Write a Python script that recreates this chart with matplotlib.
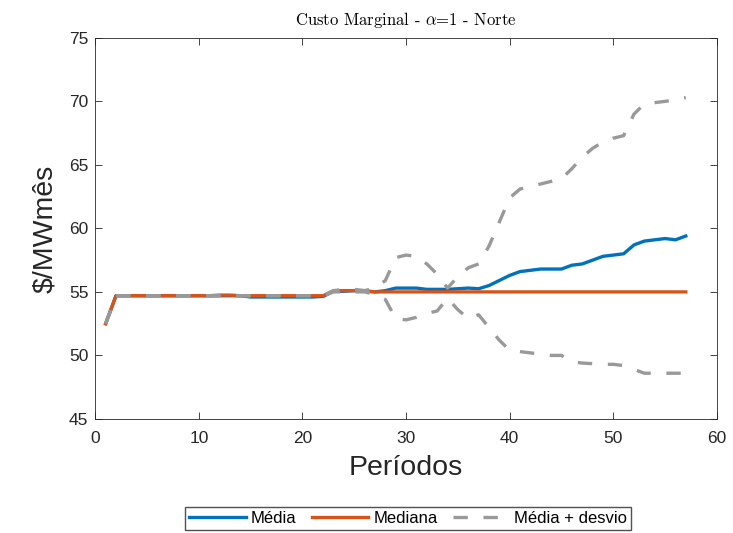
import matplotlib.pyplot as plt

periodos = list(range(1, 58))

media = [52.5] + [54.7] * 13 + [54.6] * 7 + [54.65,
         55.05, 55.05, 55.1, 55.05, 55.0, 55.1, 55.3, 55.3, 55.3, 55.2,
         55.2, 55.2, 55.25, 55.3, 55.25, 55.5, 55.9, 56.3, 56.6, 56.7,
         56.8, 56.8, 56.8, 57.1, 57.2, 57.5, 57.8, 57.9, 58.0, 58.7,
         59.0, 59.1, 59.2, 59.1, 59.4]

mediana = [52.5] + [54.7] * 10 + [54.75, 54.75] + [54.7] * 9 + [
           55.1, 55.1, 55.1, 55.1] + [55.0] * 31

sup = [52.5] + [54.7] * 21 + [
       55.1, 55.2, 55.2, 55.1, 55.3, 55.9, 57.7, 57.9, 57.8, 57.2,
       56.4, 55.3, 56.2, 56.9, 57.2, 58.6, 60.5, 62.4, 63.1, 63.3,
       63.5, 63.7, 63.9, 64.7, 65.6, 66.3, 66.8, 67.1, 67.3, 69.0,
       69.8, 69.9, 70.0, 70.1, 70.3]

inf = [52.5] + [54.7] * 21 + [
       55.0, 55.0, 55.0, 55.0, 54.8, 54.4, 52.9, 52.8, 53.0, 53.3,
       53.5, 54.5, 53.6, 52.9, 53.2, 52.2, 51.2, 50.4, 50.3, 50.2,
       50.1, 50.0, 50.0, 49.5, 49.4, 49.35, 49.3, 49.3, 49.2, 48.9,
       48.6, 48.6, 48.6, 48.6, 48.6]

plt.rcParams['font.family'] = ['Liberation Sans', 'DejaVu Sans']
plt.rcParams['mathtext.fontset'] = 'cm'

fig = plt.figure(figsize=(7.33, 5.33), dpi=100)
ax = fig.add_axes([0.13, 0.214, 0.848, 0.715])

ax.plot(periodos, media, color='#0072BD', lw=2.4, label='Média')
ax.plot(periodos, mediana, color='#D95319', lw=2.4, label='Mediana')
ax.plot(periodos, sup, color='#999999', lw=2.4, ls=(0, (4.3, 4.7)), label='Média + desvio')
ax.plot(periodos, inf, color='#999999', lw=2.4, ls=(0, (4.3, 4.7)))

ax.set_xlim(0, 60)
ax.set_ylim(45, 75)
ax.tick_params(direction='in', top=True, right=True, labelsize=12.5,
               colors='#262626', length=5, width=0.6)
ax.tick_params(axis='x', pad=9)
ax.tick_params(axis='y', pad=5)
for s in ax.spines.values():
    s.set_color('#262626')
    s.set_linewidth(0.6)

ax.set_title('Custo Marginal - $\\alpha$=1 - Norte', fontfamily='cmr10',
             fontsize=12, pad=9)
ax.set_xlabel('Períodos', fontsize=20.5, color='#262626', labelpad=6)
ax.set_ylabel('$/MWmês', fontsize=20.5, color='#262626', labelpad=8)

fig.legend(loc='center', bbox_to_anchor=(0.557, 0.027), ncol=3, fontsize=12,
           handlelength=3.4, frameon=True, fancybox=False, edgecolor='#262626',
           borderpad=0.25, columnspacing=0.9, handletextpad=0.3)

plt.savefig('out.png')
